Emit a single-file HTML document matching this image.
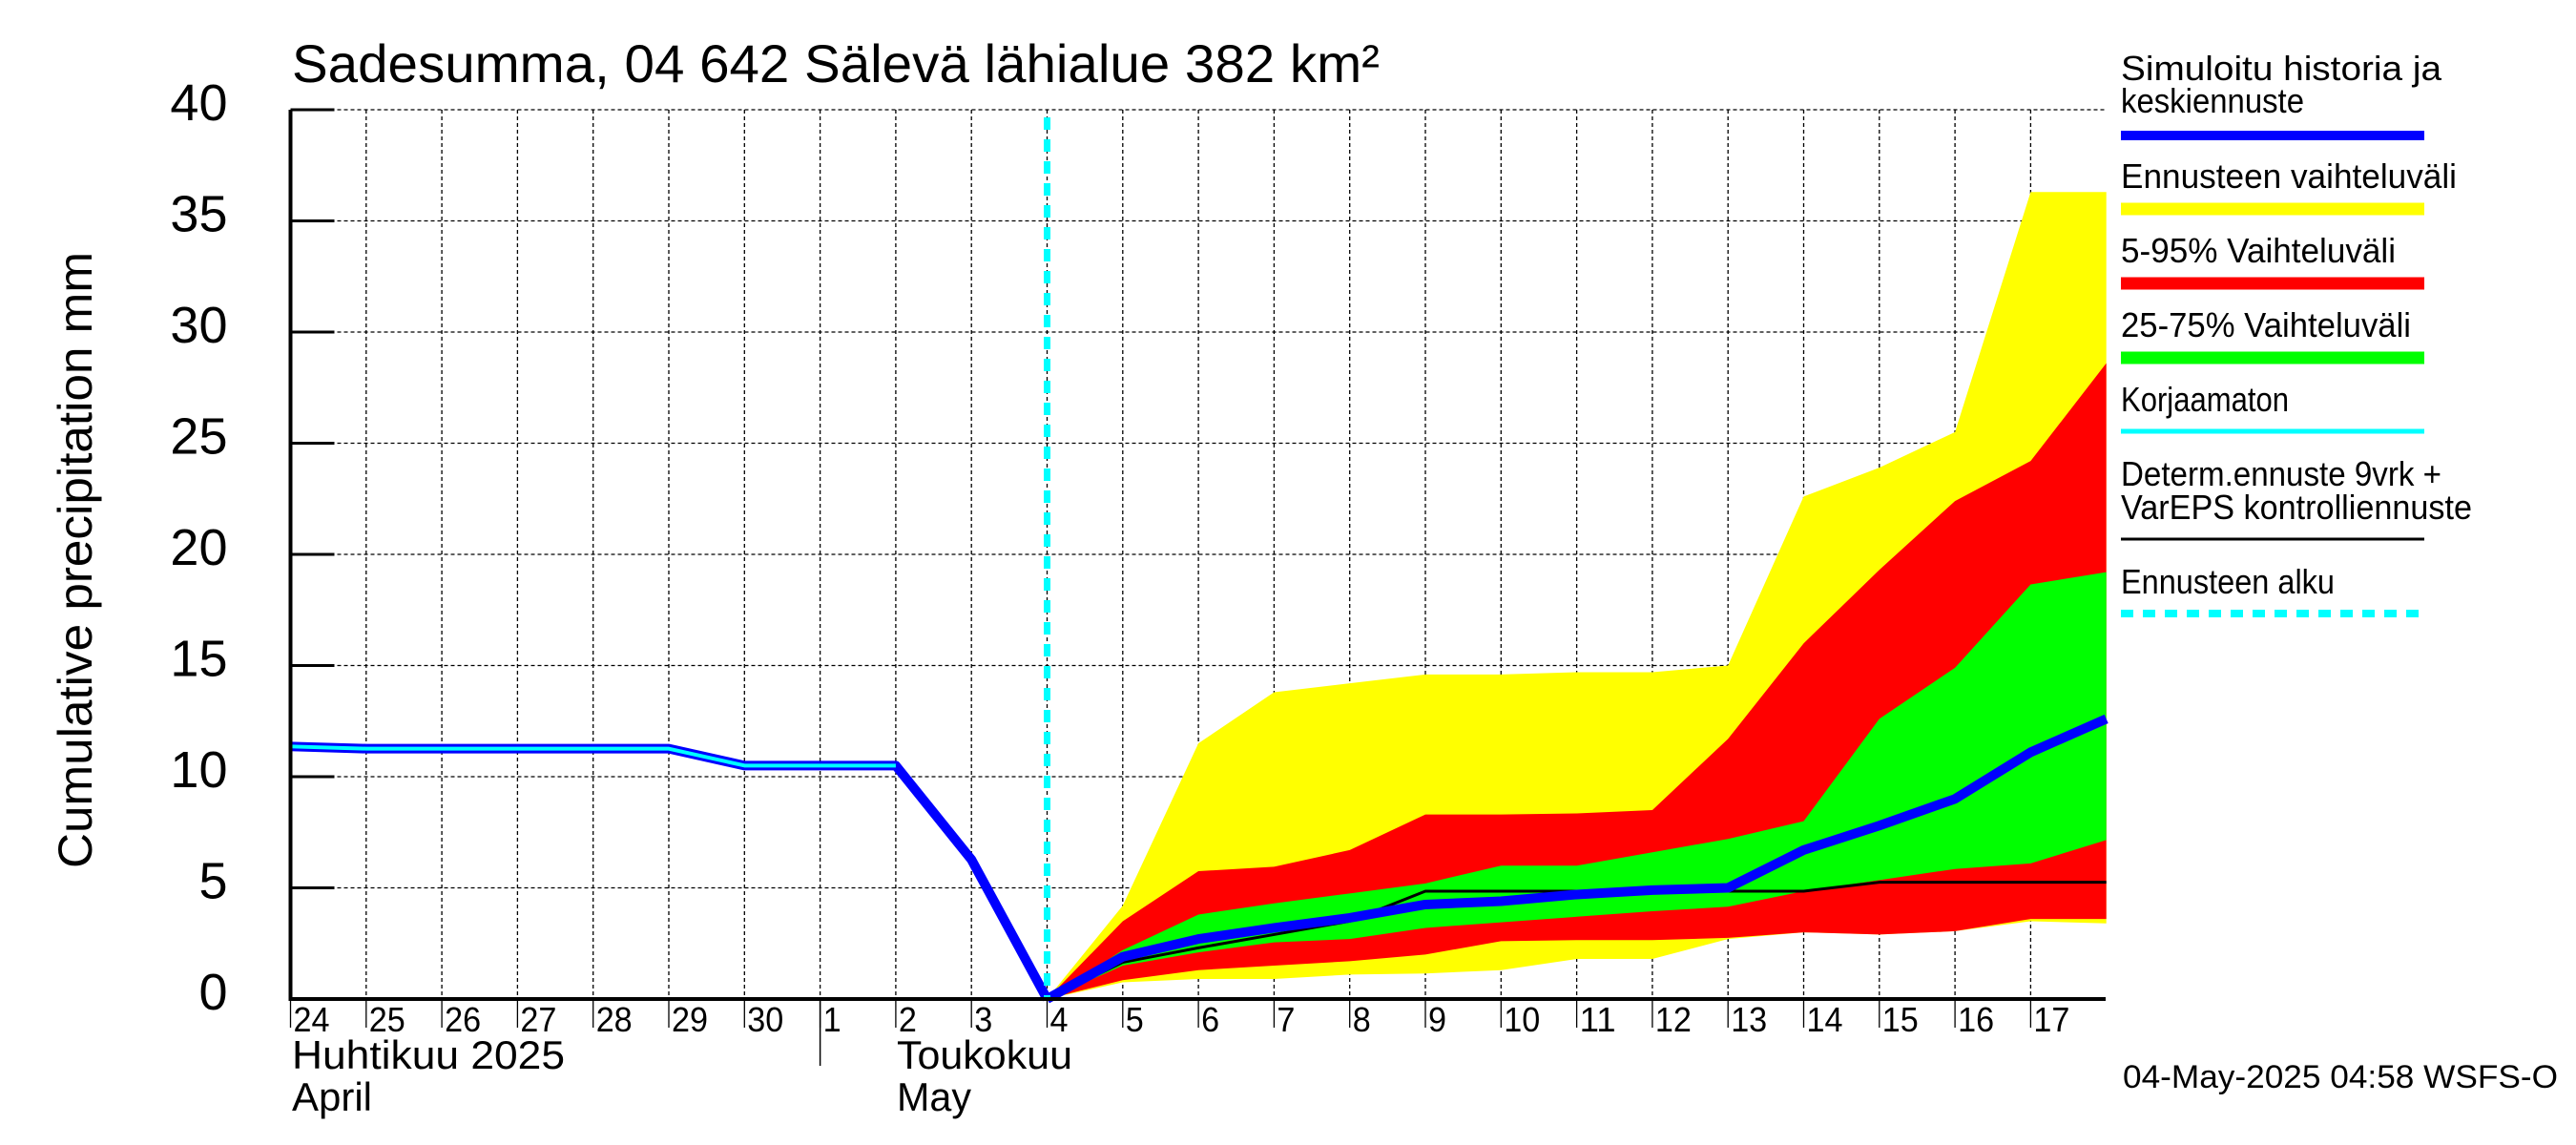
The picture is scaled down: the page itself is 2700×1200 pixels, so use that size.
<!DOCTYPE html>
<html><head><meta charset="utf-8"><style>
html,body{margin:0;padding:0;background:#fff;}
svg{display:block;font-family:"Liberation Sans",sans-serif;}
</style></head><body>
<svg id="chart" width="2700" height="1200" viewBox="0 0 2700 1200" xmlns="http://www.w3.org/2000/svg">
<rect width="2700" height="1200" fill="#fff"/>
<g id="grid"></g>
<g id="bands"></g>
<g id="lines"></g>
<g id="axes"></g>
<text x="306" y="86" font-size="56" textLength="1140" lengthAdjust="spacingAndGlyphs">Sadesumma, 04 642 Sälevä lähialue 382 km²</text>
<text transform="translate(96,587) rotate(-90)" text-anchor="middle" font-size="50" textLength="646" lengthAdjust="spacingAndGlyphs">Cumulative precipitation   mm</text>
<text x="306" y="1120" font-size="42" textLength="286" lengthAdjust="spacingAndGlyphs">Huhtikuu  2025</text>
<text x="306" y="1164" font-size="42" textLength="84" lengthAdjust="spacingAndGlyphs">April</text>
<text x="940" y="1120" font-size="42" textLength="184" lengthAdjust="spacingAndGlyphs">Toukokuu</text>
<text x="940" y="1164" font-size="42" textLength="78" lengthAdjust="spacingAndGlyphs">May</text>
<g id="legend"></g>
<text x="2225" y="1140" font-size="34" textLength="456" lengthAdjust="spacingAndGlyphs">04-May-2025 04:58 WSFS-O</text>
</svg>
<script>
// Data (day offsets from Apr 24 00:00; forecast days from May 4 = 10)
const histDays = [0,1,2,3,4,5,6,7,8,9,10];
const histValues = [11.36,11.26,11.26,11.26,11.26,11.26,10.5,10.5,10.5,6.27,0];
const fcDays = [10,11,12,13,14,15,16,17,18,19,20,21,22,23,24];
const yellowTop = [0,4.2,11.5,13.8,14.2,14.6,14.6,14.7,14.7,15.0,22.6,23.9,25.5,36.3,36.3];
const yellowBottom = [0,0.75,0.9,0.9,1.1,1.15,1.3,1.8,1.8,2.7,3.0,2.9,3.05,3.5,3.4];
const redTop = [0,3.5,5.75,5.95,6.7,8.3,8.3,8.35,8.5,11.7,16.0,19.3,22.4,24.2,28.6];
const redBottom = [0,0.85,1.3,1.5,1.7,2.0,2.6,2.65,2.65,2.75,3.0,2.9,3.05,3.6,3.6];
const greenTop = [0,2.2,3.8,4.3,4.75,5.2,6.0,6.0,6.6,7.2,8.0,12.6,14.9,18.65,19.2];
const greenBottom = [0,1.5,2.1,2.55,2.7,3.2,3.45,3.7,3.95,4.15,4.85,5.35,5.85,6.1,7.15];
const medianValues = [0,1.9,2.7,3.2,3.65,4.25,4.4,4.7,4.9,5.0,6.7,7.8,9.0,11.1,12.6];
const determValues = [0,1.65,2.3,2.9,3.5,4.85,4.85,4.85,4.85,4.85,4.85,5.25,5.25,5.25,5.25];
const yTicks = [0,5,10,15,20,25,30,35,40];
const dayLabels = ["24","25","26","27","28","29","30","1","2","3","4","5","6","7","8","9","10","11","12","13","14","15","16","17"];

const X0=304.5, DX=79.3, Y0=1047, PY=23.3, XR=2207, YT=115;
const xs=d=>X0+d*DX, ys=v=>Y0-v*PY;
const NS="http://www.w3.org/2000/svg";
function mk(tag,parent,attrs){const e=document.createElementNS(NS,tag);for(const k in attrs)e.setAttribute(k,attrs[k]);parent.appendChild(e);return e;}
const grid=document.getElementById('grid'),bands=document.getElementById('bands'),lines=document.getElementById('lines'),axes=document.getElementById('axes'),legend=document.getElementById('legend');

yTicks.forEach(v=>{
  const l=mk('line',grid,{x1:X0,x2:XR,y1:ys(v),y2:ys(v),stroke:'#000','stroke-width':1.3,'stroke-dasharray':'4,3'});
  
  
  const t=mk('line',axes,{x1:X0,x2:X0+46,y1:ys(v),y2:ys(v),stroke:'#000','stroke-width':3});
  
  
  const tx=mk('text',axes,{x:X0-66,y:ys(v)+11,'text-anchor':'end','font-size':54});
  tx.textContent=v;
  
  
});
dayLabels.forEach((lab,i)=>{
  const x=xs(i);
  if(i>0){const g=mk('line',grid,{x1:x,x2:x,y1:YT,y2:Y0,stroke:'#000','stroke-width':1.3,'stroke-dasharray':'4,3'});
  
  }
  const t=mk('line',axes,{x1:x,x2:x,y1:Y0,y2:Y0+30,stroke:'#000','stroke-width':1.3});
  
  
  const tx=mk('text',axes,{x:x+3,y:1081,'font-size':36,textLength:lab.length*19,lengthAdjust:'spacingAndGlyphs'});
  tx.textContent=lab;
  
  
});
const ms=mk('line',axes,{x1:xs(7),x2:xs(7),y1:Y0,y2:1117,stroke:'#000','stroke-width':1.5});



function band(top,bot,color,name){
  let p=fcDays.map((d,i)=>xs(d)+','+ys(top[i]));
  for(let i=fcDays.length-1;i>=0;i--)p.push(xs(fcDays[i])+','+ys(bot[i]));
  const e=mk('polygon',bands,{points:p.join(' '),fill:color});
  
  
}
band(yellowTop,yellowBottom,'#ffff00','band-full-range');
band(redTop,redBottom,'#ff0000','band-5-95');
band(greenTop,greenBottom,'#00ff00','band-25-75');

function pl(days,vals,stroke,w,name){
  const e=mk('polyline',lines,{points:days.map((d,i)=>xs(d)+','+ys(vals[i])).join(' '),fill:'none',stroke:stroke,'stroke-width':w,'stroke-linejoin':'round'});
  
  
}
pl(histDays,histValues,'#0000ff',10,'history-line');
pl(histDays.slice(0,9),histValues.slice(0,9),'#00ffff',4,'uncorrected-line');
pl(fcDays,determValues,'#000',3,'deterministic-line');
pl(fcDays,medianValues,'#0000ff',10,'median-forecast-line');
const fs=mk('line',lines,{x1:xs(10),x2:xs(10),y1:YT+8,y2:Y0,stroke:'#00ffff','stroke-width':7,'stroke-dasharray':'13,10'});



const ax=mk('path',axes,{d:`M${X0},${YT} V${Y0} H${XR}`,fill:'none',stroke:'#000','stroke-width':4});



const LX=2223, LX2=2541;
const legendItems=[
 {t:['Simuloitu historia ja','keskiennuste'],ty:[84,118],ly:142,c:'#0000ff',w:10,n:'legend-simulated'},
 {t:['Ennusteen vaihteluväli'],ty:[197],ly:219,c:'#ffff00',w:13,n:'legend-full-range'},
 {t:['5-95% Vaihteluväli'],ty:[275],ly:297,c:'#ff0000',w:13,n:'legend-5-95'},
 {t:['25-75% Vaihteluväli'],ty:[353],ly:375,c:'#00ff00',w:13,n:'legend-25-75'},
 {t:['Korjaamaton'],ty:[431],ly:452,c:'#00ffff',w:5,n:'legend-uncorrected'},
 {t:['Determ.ennuste 9vrk +','VarEPS kontrolliennuste'],ty:[509,544],ly:565,c:'#000',w:3,n:'legend-deterministic'},
 {t:['Ennusteen alku'],ty:[622],ly:643,c:'#00ffff',w:8,n:'legend-forecast-start',dash:'13,10'}
];
legendItems.forEach(it=>{
  const g=mk('g',legend,{});
  
  
  it.t.forEach((s,j)=>{const tx=mk('text',g,{x:LX,y:it.ty[j],'font-size':36,textLength:s.length*16,lengthAdjust:'spacingAndGlyphs'});tx.textContent=s;});
  const a={x1:LX,x2:LX2,y1:it.ly,y2:it.ly,stroke:it.c,'stroke-width':it.w};
  if(it.dash)a['stroke-dasharray']=it.dash;
  mk('line',g,a);
});
</script>
</body></html>
